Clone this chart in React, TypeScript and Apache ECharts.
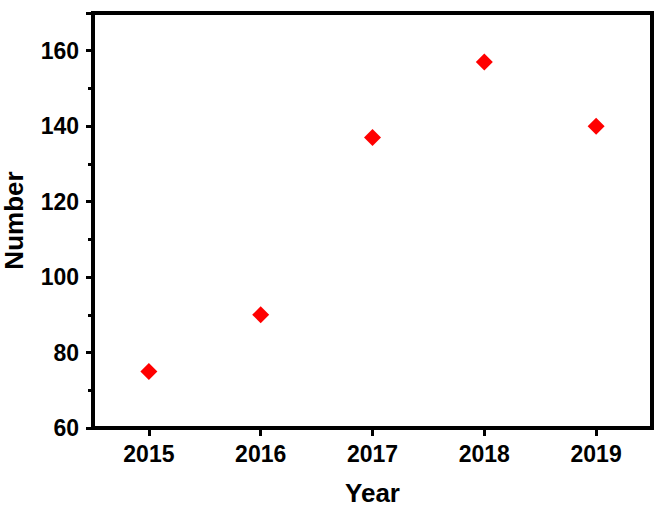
import React, { useEffect, useRef } from "react";
import * as echarts from "echarts";

const years = ["2015", "2016", "2017", "2018", "2019"];
const numbers = [75, 90, 137, 157, 140];
const yMin = 60;
const yMax = 170;
const yMajorStep = 20;
const yMinorStep = 10;

const FONT = "'Liberation Sans', Arial, sans-serif";

export default function App() {
  const ref = useRef<HTMLDivElement>(null);
  useEffect(() => {
    if (!ref.current) return;
    const chart = echarts.init(ref.current, null, { renderer: "svg" });
    chart.setOption({
      animation: false,
      backgroundColor: "#ffffff",
      grid: {
        left: 93,
        right: 14,
        top: 13,
        bottom: 81,
        containLabel: false,
        outerBoundsMode: "none",
        show: true,
        borderColor: "#000",
        borderWidth: 4,
        backgroundColor: "transparent",
      },
      xAxis: {
        type: "category",
        data: years,
        boundaryGap: true,
        name: "Year",
        nameLocation: "middle",
        nameGap: 52,
        nameTextStyle: { fontFamily: FONT, fontWeight: "bold", fontSize: 26, color: "#000" },
        axisLine: { show: true, lineStyle: { color: "#000", width: 4 } },
        axisTick: { show: true, alignWithLabel: true, length: 8, lineStyle: { color: "#000", width: 3 } },
        axisLabel: { margin: 14, fontFamily: FONT, fontWeight: "bold", fontSize: 23, color: "#000" },
        splitLine: { show: false },
      },
      yAxis: [
        {
          type: "value",
          min: yMin,
          max: yMax,
          interval: yMajorStep,
          position: "left",
          name: "Number",
          nameLocation: "middle",
          nameGap: 66,
          nameRotate: 90,
          nameTextStyle: { fontFamily: FONT, fontWeight: "bold", fontSize: 26, color: "#000" },
          axisLine: { show: true, lineStyle: { color: "#000", width: 4 } },
          axisTick: { show: true, length: 7, lineStyle: { color: "#000", width: 3 } },
          axisLabel: {
            margin: 14,
            formatter: (v: number) => (v % yMajorStep === 0 ? String(v) : ""),
            fontFamily: FONT,
            fontWeight: "bold",
            fontSize: 23,
            color: "#000",
          },
          splitLine: { show: false },
        },
        {
          type: "value",
          min: yMin,
          max: yMax,
          interval: yMinorStep,
          position: "left",
          offset: 0,
          axisLine: { show: false },
          axisTick: { show: true, length: 5, lineStyle: { color: "#000", width: 3 } },
          axisLabel: { show: false },
          splitLine: { show: false },
        },
      ],
      series: [
        {
          type: "scatter",
          xAxisIndex: 0,
          yAxisIndex: 0,
          data: numbers,
          symbol: "diamond",
          symbolSize: 17,
          itemStyle: { color: "#ff0000", opacity: 1 },
        },
      ],
    });
    return () => chart.dispose();
  }, []);
  return <div ref={ref} style={{ width: 666, height: 509, position: "absolute", left: 0, top: 0 }} />;
}
